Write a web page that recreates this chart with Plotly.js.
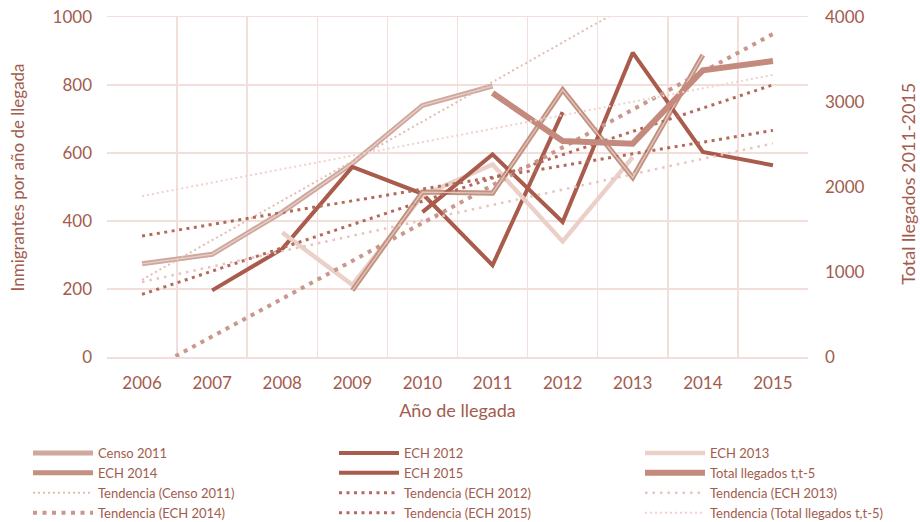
<!DOCTYPE html>
<html>
<head>
<meta charset="utf-8">
<script src="https://cdn.plot.ly/plotly-3.0.1.min.js"></script>
<style>
  html, body { margin: 0; padding: 0; background: #ffffff; }
  #chart { width: 920px; height: 522px; }
</style>
</head>
<body>
<div id="chart"></div>
<script>
// ---- Data ----
const years = ['2006', '2007', '2008', '2009', '2010', '2011', '2012', '2013', '2014', '2015'];
const censo2011 = [274, 302, 426, 569, 740, 797, null, null, null, null];
const ech2012   = [null, 196, 318, 559, 480, 270, 720, null, null, null];
const ech2013   = [null, null, 366, 212, 475, 566, 340, 588, null, null];
const ech2014   = [null, null, null, 196, 485, 482, 786, 528, 888, null];
const ech2015   = [null, null, null, null, 426, 596, 397, 895, 603, 564];
const totalLlegados = [null, null, null, null, null, 3106, 2541, 2510, 3373, 3482];

const seriesNames = ['Censo 2011', 'ECH 2012', 'ECH 2013', 'ECH 2014', 'ECH 2015', 'Total llegados t,t-5'];
const leftTicks = [0, 200, 400, 600, 800, 1000];
const rightTicks = [0, 1000, 2000, 3000, 4000];
const leftTitle = 'Inmigrantes por año de llegada';
const rightTitle = 'Total llegados 2011-2015';
const xTitle = 'Año de llegada';

// Linear least-squares trendline (as in the spreadsheet), evaluated over all categories
function trend(vals) {
  const pts = [];
  vals.forEach((v, i) => { if (v !== null) pts.push([i, v]); });
  const n = pts.length;
  const mx = pts.reduce((s, p) => s + p[0], 0) / n;
  const my = pts.reduce((s, p) => s + p[1], 0) / n;
  let sxy = 0, sxx = 0;
  pts.forEach(p => { sxy += (p[0] - mx) * (p[1] - my); sxx += (p[0] - mx) * (p[0] - mx); });
  const b = sxy / sxx, a = my - b * mx;
  return vals.map((_, i) => a + b * i);
}

const TXT = '#a25b4d';
const FONT = 'Lato, "Open Sans", sans-serif';

function line(name, y, lineStyle, opts) {
  return Object.assign({
    type: 'scatter', mode: 'lines', name: name, x: years, y: y,
    line: lineStyle, connectgaps: false, hoverinfo: 'skip'
  }, opts || {});
}

const traces = [
  line(seriesNames[0], censo2011, { color: '#cfa79d', width: 5 }, { legend: 'legend' }),
  line(seriesNames[1], ech2012, { color: '#a95b4c', width: 4 }, { legend: 'legend2' }),
  line(seriesNames[2], ech2013, { color: '#ebd0c9', width: 4.5 }, { legend: 'legend3' }),
  line(seriesNames[3], ech2014, { color: '#c3917f', width: 5 }, { legend: 'legend' }),
  line(seriesNames[4], ech2015, { color: '#a95b4c', width: 4 }, { legend: 'legend2' }),
  line(seriesNames[5], totalLlegados, { color: '#c48a7d', width: 6 }, { yaxis: 'y2', legend: 'legend3' }),
  line('Tendencia (Censo 2011)', trend(censo2011), { color: '#e4bcb2', width: 2, dash: '2px,3px' }, { legend: 'legend' }),
  line('Tendencia (ECH 2012)', trend(ech2012), { color: '#b36a5b', width: 3, dash: '3px,4.5px' }, { legend: 'legend2' }),
  line('Tendencia (ECH 2013)', trend(ech2013), { color: '#e8c5bc', width: 2.5, dash: '2.5px,5px' }, { legend: 'legend3' }),
  line('Tendencia (ECH 2014)', trend(ech2014), { color: '#c9978c', width: 4, dash: '4px,5.5px' }, { legend: 'legend' }),
  line('Tendencia (ECH 2015)', trend(ech2015), { color: '#b36a5b', width: 3, dash: '3px,4.5px' }, { legend: 'legend2' }),
  line('Tendencia (Total llegados t,t-5)', trend(totalLlegados), { color: '#efd2ca', width: 2, dash: '2px,3px' }, { yaxis: 'y2', legend: 'legend3' }),
  // lighter centre stripe of the compound lines
  line('', censo2011, { color: '#e6cfc8', width: 1.3 }, { showlegend: false }),
  line('', ech2014, { color: '#e2c6bd', width: 1.3 }, { showlegend: false })
];

const gridColor = '#f2dfdb';

function legendAt(xpx) {
  return {
    orientation: 'v', xref: 'container', yref: 'container',
    x: xpx / 920, xanchor: 'left', y: 1 - 438 / 522, yanchor: 'top',
    itemwidth: 60, traceorder: 'normal',
    font: { size: 13, color: TXT, family: FONT },
    bgcolor: 'rgba(0,0,0,0)', borderwidth: 0
  };
}

const layout = {
  width: 920, height: 522,
  paper_bgcolor: '#ffffff', plot_bgcolor: '#ffffff',
  margin: { l: 107, r: 112, t: 17, b: 165, autoexpand: false },
  font: { family: FONT, color: TXT, size: 17 },
  showlegend: true,
  xaxis: {
    type: 'category', tickson: 'boundaries', ticks: '', range: [-0.5, 9.5],
    showgrid: true, gridcolor: gridColor, gridwidth: 1.5,
    showline: true, linecolor: gridColor, linewidth: 1.5, mirror: true,
    ticklabelstandoff: 10,
    tickfont: { size: 17, color: TXT, family: FONT },
    title: { text: xTitle, font: { size: 18, color: TXT, family: FONT }, standoff: 12 }
  },
  yaxis: {
    range: [0, 1000], tickvals: leftTicks, ticktext: leftTicks.map(String),
    showgrid: true, gridcolor: gridColor, gridwidth: 1.5,
    zeroline: true, zerolinecolor: gridColor, zerolinewidth: 1.5,
    ticks: '', ticklabelstandoff: 14,
    tickfont: { size: 17, color: TXT, family: FONT }
  },
  yaxis2: {
    overlaying: 'y', side: 'right', range: [0, 4000],
    tickvals: rightTicks, ticktext: rightTicks.map(String),
    showgrid: false, zeroline: false, ticks: '', ticklabelstandoff: 16,
    tickfont: { size: 17, color: TXT, family: FONT }
  },
  annotations: [
    { text: leftTitle, xref: 'paper', yref: 'paper', x: -0.127, y: 0.528,
      xanchor: 'center', yanchor: 'middle', textangle: -90, showarrow: false,
      font: { size: 17, color: TXT, family: FONT } },
    { text: rightTitle, xref: 'paper', yref: 'paper', x: 1.1427, y: 0.51,
      xanchor: 'center', yanchor: 'middle', textangle: -90, showarrow: false,
      font: { size: 18, color: TXT, family: FONT } }
  ],
  legend: legendAt(28),
  legend2: legendAt(334),
  legend3: legendAt(640)
};

Plotly.newPlot('chart', traces, layout, { staticPlot: true, displayModeBar: false });
</script>
</body>
</html>
